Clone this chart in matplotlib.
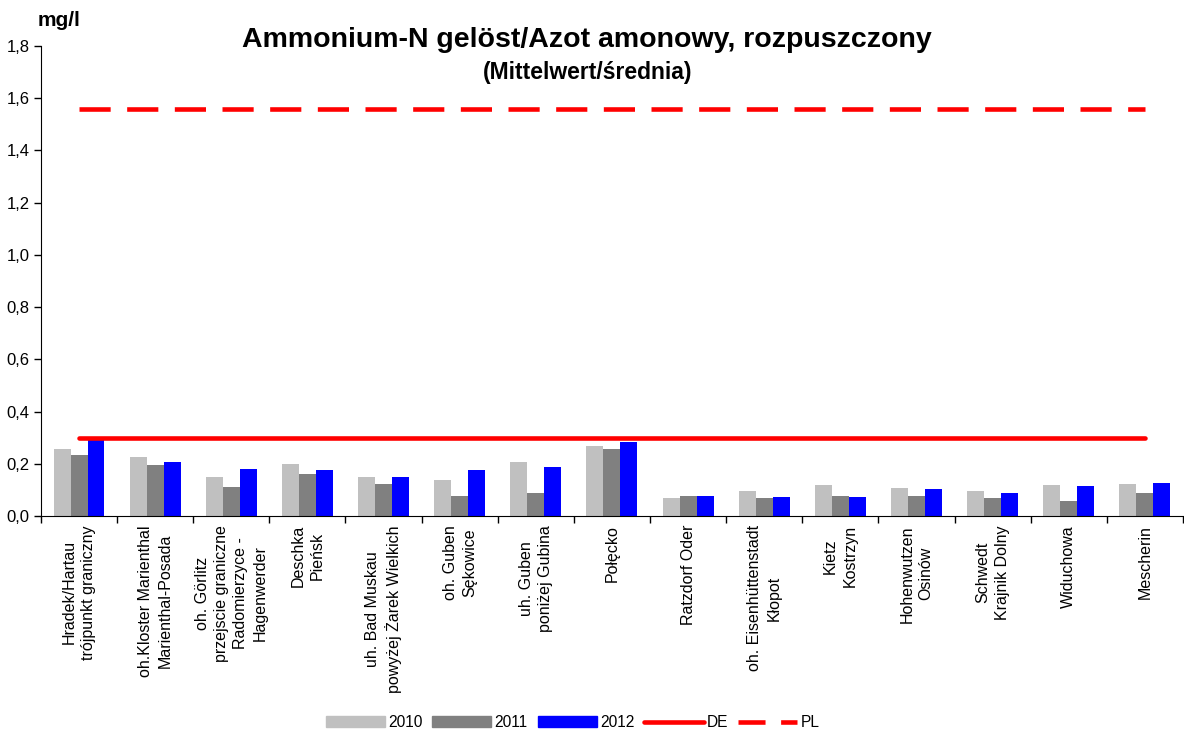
import numpy as np
import matplotlib.pyplot as plt
from matplotlib.lines import Line2D
from matplotlib.patches import Patch

plt.rcParams['font.family'] = ['Liberation Sans', 'DejaVu Sans']

stations = ["Hradek/Hartau\ntrójpunkt graniczny",
            "oh.Kloster Marienthal\nMarienthal-Posada",
            "oh. Görlitz\nprzejscie graniczne\nRadomierzyce -\nHagenwerder",
            "Deschka\nPieńsk",
            "uh. Bad Muskau\npowyżej Żarek Wielkich",
            "oh. Guben\nSękowice",
            "uh. Guben\nponiżej Gubina",
            "Połęcko",
            "Ratzdorf Oder",
            "oh. Eisenhüttenstadt\nKłopot",
            "Kietz\nKostrzyn",
            "Hohenwutzen\nOsinów",
            "Schwedt\nKrajnik Dolny",
            "Widuchowa",
            "Mescherin"]

v2010 = [0.257, 0.226, 0.149, 0.199, 0.149, 0.138, 0.207, 0.268, 0.069, 0.096, 0.119, 0.107, 0.096, 0.119, 0.123]
v2011 = [0.234, 0.195, 0.111, 0.161, 0.123, 0.077, 0.088, 0.257, 0.077, 0.069, 0.077, 0.077, 0.069, 0.058, 0.088]
v2012 = [0.295, 0.207, 0.180, 0.176, 0.149, 0.176, 0.188, 0.283, 0.077, 0.073, 0.073, 0.103, 0.088, 0.115, 0.126]
de_limit = 0.30
pl_limit = 1.56

fig = plt.figure(figsize=(11.84, 7.35), dpi=100)
ax = fig.add_axes([0.0346, 0.298, 0.9645, 0.6394])

n = len(stations)
x = np.arange(n)
w = 0.223
ax.bar(x - w, v2010, w, color='#c0c0c0', label='2010')
ax.bar(x, v2011, w, color='#808080', label='2011')
ax.bar(x + w, v2012, w, color='#0000ff', label='2012')

ax.plot([x[0], x[-1]], [de_limit, de_limit], color='#ff0000', lw=3.3, solid_capstyle='round')
ax.plot([x[0], x[-1]], [pl_limit, pl_limit], color='#ff0000', lw=3.3, dashes=(6.8, 3.6))

ax.set_xlim(-0.5, n - 0.5)
ax.set_ylim(0, 1.8)
yt = np.arange(0, 1.81, 0.2)
ax.set_yticks(yt)
ax.set_yticklabels([f"{t:.1f}".replace('.', ',') for t in yt], fontsize=12)
ax.set_xticks(np.arange(n + 1) - 0.5)
ax.set_xticklabels([])
ax.tick_params(axis='both', direction='out', length=5, width=1, color='black', pad=3)
ax.spines['top'].set_visible(False)
ax.spines['right'].set_visible(False)

for i, s in enumerate(stations):
    ax.text(i, -0.035, s, rotation=90, ha='center', va='top', multialignment='center',
            fontsize=11.5, linespacing=1.35)

fig.text(0.032, 0.972, "mg/l", fontsize=15, fontweight='bold', ha='left', va='center')
fig.text(0.496, 0.945, "Ammonium-N gelöst/Azot amonowy, rozpuszczony", fontsize=20.5,
         fontweight='bold', ha='center', va='center')
fig.text(0.496, 0.901, "(Mittelwert/średnia)", fontsize=16.5, fontweight='bold',
         ha='center', va='center')

handles = [Patch(color='#c0c0c0'), Patch(color='#808080'), Patch(color='#0000ff'),
           Line2D([], [], color='#ff0000', lw=3.3, solid_capstyle='round'),
           Line2D([], [], color='#ff0000', lw=3.3, dashes=(5.9, 3.4))]
fig.legend(handles, ['2010', '2011', '2012', 'DE', 'PL'], loc='center', ncol=5,
           bbox_to_anchor=(0.4835, 0.017), frameon=False, fontsize=11.2,
           handlelength=3.8, handletextpad=0.2, columnspacing=0.65, handleheight=0.7)

fig.savefig('out.png', dpi=100)
